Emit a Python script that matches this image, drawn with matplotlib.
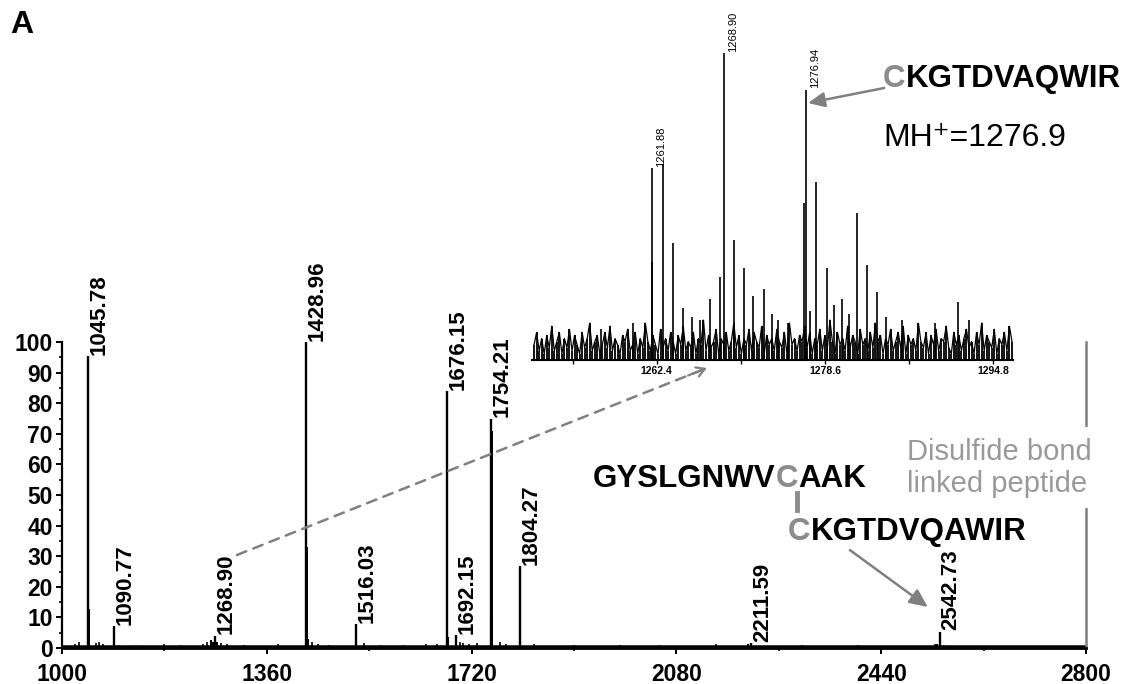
import matplotlib
matplotlib.use('Agg')
import numpy as np
import matplotlib.pyplot as plt

plt.rcParams['font.family'] = ['Liberation Sans', 'DejaVu Sans']

## Data
# main spectrum: labelled peaks
label_mz = [1045.78, 1090.77, 1268.90, 1428.96, 1516.03, 1676.15, 1692.15,
            1754.21, 1804.27, 2211.59, 2542.73]
label_int = [95.4, 7.2, 4.0, 100.0, 7.8, 84.0, 4.2, 75.0, 26.8, 1.6, 5.3]

# extra sticks (isotopes / shoulders)
side_mz = [1046.9, 1047.6, 1091.8, 1262.0, 1265.0, 1272.0, 1430.4, 1432.0,
           1517.2, 1677.3, 1678.6, 1755.3, 1756.5, 1805.4, 2205.0, 2543.8, 2538.0]
side_int = [9.0, 12.7, 5.0, 2.6, 2.0, 1.8, 33.0, 3.0,
            5.0, 47.0, 3.5, 71.0, 11.0, 9.0, 1.2, 3.0, 1.2]

# small baseline bumps
noise_mz = [1022, 1030, 1060, 1065, 1072, 1100, 1130, 1180, 1210, 1248, 1255,
            1280, 1290, 1320, 1380, 1440, 1450, 1470, 1530, 1560, 1600, 1640,
            1660, 1700, 1705, 1715, 1730, 1770, 1780, 1830, 1900, 1980, 2050,
            2150, 2300, 2400, 2535, 2550]
noise_int = [1.2, 1.8, 1.5, 1.9, 1.4, 1.1, 1.0, 1.2, 1.0, 1.4, 1.9,
             1.6, 1.3, 1.0, 1.4, 1.8, 1.3, 1.0, 1.5, 1.0, 1.1, 1.2,
             1.4, 1.9, 1.5, 1.3, 1.6, 1.8, 1.2, 1.4, 1.0, 1.1, 1.0,
             1.2, 1.0, 1.0, 1.3, 1.1]
base_level = 0.6

# inset spectrum (zoom of 1250-1297)
inset_mz = [1261.92, 1261.98, 1262.98, 1263.94, 1264.91, 1265.78, 1267.50,
            1268.86, 1269.83, 1270.79, 1271.66, 1272.72, 1276.62, 1276.77,
            1277.73, 1278.79, 1280.24, 1281.69, 1282.65, 1283.62, 1291.43,
            1257.0, 1260.1, 1266.6, 1273.5, 1275.0, 1279.5, 1284.5, 1286.0,
            1289.2, 1292.5, 1268.5, 1277.2, 1280.9, 1274.1]
inset_int = [62.5, 32.0, 64.0, 38.0, 17.0, 14.0, 20.0,
             100.0, 39.0, 30.0, 21.0, 23.0, 51.0, 88.0,
             58.0, 30.0, 20.0, 48.0, 31.0, 22.0, 19.0,
             10.0, 12.0, 13.0, 15.0, 12.0, 18.0, 14.0, 13.0,
             12.0, 13.0, 27.0, 16.0, 15.0, 13.0]
inset_labels = ['1261.88', '1268.90', '1276.94']
inset_label_mz = [1261.92, 1268.86, 1276.77]
inset_label_int = [62.5, 100.0, 88.0]

inset_noise = [5, 9, 3, 7, 2, 8, 4, 11, 3, 6, 9, 2, 7, 4, 10, 3, 8, 5, 2, 9,
               4, 7, 12, 3, 6, 8, 2, 5, 9, 4, 11, 3, 7, 5, 2, 8, 6, 10, 3, 5,
               9, 2, 7, 4, 12, 6, 3, 8, 5, 2, 10, 4, 7, 3, 9, 6, 2, 8, 5, 11,
               3, 6, 4, 9, 2, 7, 5, 13, 3, 8, 4, 6, 10, 2, 7, 5, 9, 3, 6, 12,
               4, 8, 2, 7, 5, 10, 3, 9, 6, 4, 11, 2, 8, 5, 7, 3, 10, 6, 4, 9,
               2, 12, 5, 7, 3, 8, 6, 11, 4, 9, 2, 7, 5, 10, 3, 8, 4, 13, 6, 2,
               9, 5, 7, 3, 11, 4, 8, 6, 2, 10, 5, 7, 3, 9, 4, 12, 6, 8, 2, 7,
               5, 10, 3, 6, 9, 4, 11, 2, 8, 5, 7, 3, 12, 6, 4, 9, 2, 8, 5, 10,
               3, 7, 6, 11, 4, 2, 9, 5, 8, 3, 7, 10, 4, 6, 2, 9, 5, 12, 3, 8,
               6, 4, 10, 2, 7, 5, 9, 3, 11, 6]

x_ticks = [1000, 1360, 1720, 2080, 2440, 2800]
inset_ticks = [1262.4, 1278.6, 1294.8]
inset_minor = [1254.3, 1270.5, 1286.7]

GRAY = '#8c8c8c'
narrow = ['Liberation Sans Narrow', 'Liberation Sans', 'DejaVu Sans']

## Figure
W, H = 1142, 684
fig = plt.figure(figsize=(W / 100, H / 100), dpi=100)

def fx(px):
    return px / W

def fy(py):
    return 1 - py / H

ax = fig.add_axes([fx(62), fy(648), fx(1086) - fx(62), fy(342) - fy(648)])
ax.set_xlim(1000, 2800)
ax.set_ylim(0, 100)

ax.axhline(base_level, color='black', lw=1.8, zorder=1)
ax.vlines(noise_mz, 0, noise_int, color='black', lw=1.2)
ax.vlines(side_mz, 0, side_int, color='black', lw=1.4)
ax.vlines(label_mz, 0, label_int, color='black', lw=1.7)

for m, h in zip(label_mz, label_int):
    ax.annotate(f'{m:.2f}', xy=(m, h), xytext=(8, 1), textcoords='offset points',
                rotation=90, ha='center', va='bottom', fontsize=16,
                fontweight='bold')

ax.spines['top'].set_visible(False)
ax.spines['left'].set_linewidth(1.6)
ax.spines['bottom'].set_linewidth(2.0)
ax.spines['right'].set_color('#808080')
ax.spines['right'].set_linewidth(1.8)

ax.set_xticks(x_ticks)
ax.set_xticks([1180, 1540, 1900, 2260, 2620], minor=True)
ax.set_yticks(np.arange(0, 101, 10))
ax.set_yticks(np.arange(5, 100, 10), minor=True)
ax.tick_params(which='major', length=4.5, width=1.4, direction='out', pad=2)
ax.tick_params(which='minor', length=2.5, width=1.2, direction='out')
ax.tick_params(axis='x', which='major', pad=6)
ax.tick_params(right=False, which='both')
for t in ax.get_xticklabels() + ax.get_yticklabels():
    t.set_family(narrow)
    t.set_fontweight('bold')
    t.set_fontsize(16.5)

# dashed link from 1268.90 to the zoom
start = np.array([1307.6, 30.4])
end = np.array([2133.6, 91.5])
ax.annotate('', xy=end, xytext=start,
            arrowprops=dict(arrowstyle='-', color='#808080', lw=1.8,
                            linestyle=(0, (4, 3)), shrinkA=0, shrinkB=2))
ax.annotate('', xy=end, xytext=end - 0.04 * (end - start),
            arrowprops=dict(arrowstyle='->,head_length=0.6,head_width=0.35',
                            color='#808080', lw=1.6, shrinkA=0, shrinkB=0))

# arrow to 2542.73
ax.annotate('', xy=(2522, 13.4), xytext=(2385, 32),
            arrowprops=dict(arrowstyle='-|>,head_length=1.1,head_width=0.5',
                            color='#808080', lw=1.8, shrinkA=0, shrinkB=0))

## Inset
axi = fig.add_axes([fx(532), fy(360), fx(1013) - fx(532), fy(53) - fy(360)])
axi.set_facecolor('none')
axi.set_xlim(1250.4, 1296.7)
axi.set_ylim(0, 100)
xs = np.linspace(1250.6, 1296.6, len(inset_noise))
axi.vlines(xs, 0, inset_noise, color='black', lw=1.3)
axi.plot(xs, inset_noise, color='black', lw=0.9)
axi.vlines(inset_mz, 0, inset_int, color='black', lw=1.2)
for lab, m, h in zip(inset_labels, inset_label_mz, inset_label_int):
    axi.annotate(lab, xy=(m, h), xytext=(6.5, 1), textcoords='offset points',
                 rotation=90, ha='center', va='bottom', fontsize=8)
for s in ['top', 'left', 'right']:
    axi.spines[s].set_visible(False)
axi.spines['bottom'].set_linewidth(1.5)
axi.set_yticks([])
axi.set_xticks(inset_ticks)
axi.set_xticks(inset_minor, minor=True)
axi.set_xticklabels([f'{v:.1f}' for v in inset_ticks], fontsize=7.5,
                    fontweight='bold')
axi.tick_params(which='both', length=3, width=1, direction='out', pad=1)

axi.annotate('', xy=(1276.96, 83.7), xytext=(1284.3, 88.6),
             arrowprops=dict(arrowstyle='-|>,head_length=1.0,head_width=0.45',
                             color='#808080', lw=1.8, shrinkA=0, shrinkB=0))

## Text
fig.text(fx(10), fy(33), 'A', fontsize=23, fontweight='bold', va='baseline')

t = fig.text(fx(883), fy(87), 'C', color=GRAY, fontsize=22.5,
             fontweight='bold', va='baseline')
axi.annotate('KGTDVAQWIR', xy=(1, 0), xycoords=t, va='bottom', fontsize=22.5,
             fontweight='bold', annotation_clip=False)
fig.text(fx(883), fy(146), 'MH\u207a=1276.9', fontsize=23, va='baseline')

t1 = fig.text(fx(593), fy(487), 'GYSLGNWV', fontsize=22.5, fontweight='bold',
              va='baseline')
t2 = ax.annotate('C', xy=(1, 0), xycoords=t1, va='bottom', fontsize=22.5,
                 fontweight='bold', color=GRAY, annotation_clip=False)
ax.annotate('AAK', xy=(1, 0), xycoords=t2, va='bottom', fontsize=22.5,
            fontweight='bold', annotation_clip=False)
fig.add_artist(plt.Line2D([fx(797), fx(797)], [fy(493), fy(510)],
                          color=GRAY, lw=3.5))
t3 = fig.text(fx(788), fy(540), 'C', fontsize=22.5, fontweight='bold',
              color=GRAY, va='baseline')
ax.annotate('KGTDVQAWIR', xy=(1, 0), xycoords=t3, va='bottom', fontsize=22.5,
            fontweight='bold', annotation_clip=False)

fig.text(fx(907), fy(492), 'Disulfide bond\nlinked peptide', fontsize=21,
         color='#999999', va='baseline', linespacing=1.2,
         bbox=dict(boxstyle='square,pad=0.35', fc='white', ec='none'),
         zorder=5)

fig.savefig('out.png', dpi=100)
